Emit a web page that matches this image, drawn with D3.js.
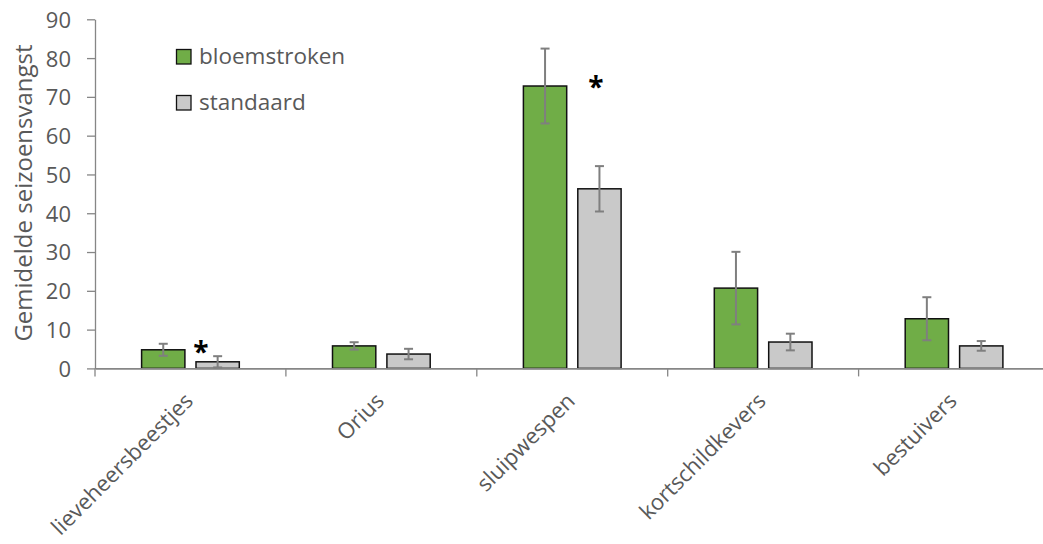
<!DOCTYPE html>
<html>
<head>
<meta charset="utf-8">
<script src="https://cdn.jsdelivr.net/npm/d3@7"></script>
<style>
  html, body { margin: 0; padding: 0; background: #fff; }
  svg text { font-family: "Open Sans", "Liberation Sans", sans-serif; }
</style>
</head>
<body>
<svg id="chart" width="1043" height="544"></svg>
<script>
const categories = ["lieveheersbeestjes", "Orius", "sluipwespen", "kortschildkevers", "bestuivers"];
const seriesNames = ["bloemstroken", "standaard"];
const bloemstroken = [4.8, 5.8, 72.8, 20.7, 12.8];
const bloemstrokenErr = [1.55, 0.95, 9.65, 9.35, 5.55];
const standaard = [1.7, 3.7, 46.3, 6.8, 5.8];
const standaardErr = [1.45, 1.35, 5.85, 2.15, 1.25];
const yTicks = [0, 10, 20, 30, 40, 50, 60, 70, 80, 90];
const significant = ["lieveheersbeestjes", "sluipwespen"];
const significantLevel = [5.5, 73.9];
const yTitle = "Gemidelde seizoensvangst";

const colors = {bloemstroken: "#70AD47", standaard: "#C9C9C9"};
const svg = d3.select("#chart");

const x0 = d3.scaleBand().domain(categories).range([95, 95 + 5 * 190.9]).paddingInner(0).paddingOuter(0);
const x1 = d3.scaleBand().domain(seriesNames).range([46.6, 144.3]).paddingInner(0.204).paddingOuter(0);
const y = d3.scaleLinear().domain([0, 90]).range([368.4, 19.3]);

const values = {bloemstroken, standaard};
const errs = {bloemstroken: bloemstrokenErr, standaard: standaardErr};
const data = [];
categories.forEach((c, i) => seriesNames.forEach(s => data.push({cat: c, s, v: values[s][i], e: errs[s][i]})));

// Y axis
const yAxis = d3.axisLeft(y).tickValues(yTicks).tickSize(8).tickSizeOuter(0).tickPadding(16);
const gy = svg.append("g").attr("transform", "translate(95,0)").call(yAxis);
gy.select(".domain").attr("stroke", "#868686").attr("stroke-width", 1.3);
gy.selectAll(".tick line").attr("stroke", "#868686").attr("stroke-width", 1.3);
gy.selectAll(".tick text").attr("fill", "#595959").style("font-size", "22px").attr("dy", "0.36em");

// Bars
svg.append("g").selectAll("rect").data(data).join("rect")
  .attr("x", d => x0(d.cat) + x1(d.s))
  .attr("y", d => y(d.v))
  .attr("width", x1.bandwidth())
  .attr("height", d => y(0) - y(d.v))
  .attr("fill", d => colors[d.s])
  .attr("stroke", "#111")
  .attr("stroke-width", 1.5);

// X axis
const xAxis = d3.axisBottom(x0).tickSize(0).tickFormat("");
const gx = svg.append("g").attr("transform", `translate(0,${y(0)})`).call(xAxis);
gx.select(".domain").attr("stroke", "#868686").attr("stroke-width", 1.6);
const bounds = categories.map(c => x0(c));
svg.append("g").selectAll("line").data(bounds).join("line")
  .attr("x1", d => d).attr("x2", d => d)
  .attr("y1", y(0)).attr("y2", y(0) + 8)
  .attr("stroke", "#868686").attr("stroke-width", 1.3);

// Error bars
const eg = svg.append("g").attr("stroke", "#7F7F7F").attr("stroke-width", 2);
data.forEach(d => {
  const cx = x0(d.cat) + x1(d.s) + x1.bandwidth() / 2;
  eg.append("line").attr("x1", cx).attr("x2", cx).attr("y1", y(d.v + d.e)).attr("y2", y(Math.max(0, d.v - d.e)));
  [d.v + d.e, Math.max(0, d.v - d.e)].forEach(v => {
    eg.append("line").attr("x1", cx - 4.5).attr("x2", cx + 4.5).attr("y1", y(v)).attr("y2", y(v));
  });
});

// Category labels
svg.append("g").selectAll("text").data(categories).join("text")
  .attr("transform", d => `translate(${x0(d) + x0.bandwidth() / 2 + 4},${y(0) + 34}) rotate(-45)`)
  .attr("text-anchor", "end")
  .attr("fill", "#595959")
  .style("font-size", "22px")
  .text(d => d);

// Significance asterisks
const starOffset = {lieveheersbeestjes: 5, sluipwespen: 18};
svg.append("g").selectAll("text").data(significant).join("text")
  .attr("x", d => x0(d) + x1("standaard") + starOffset[d])
  .attr("y", (d, i) => y(significantLevel[i]) + 15)
  .attr("text-anchor", "middle")
  .attr("fill", "#000")
  .style("font-size", "28px")
  .style("font-weight", "bold")
  .text("*");

// Y title
svg.append("text")
  .attr("transform", "translate(32,193) rotate(-90)")
  .attr("text-anchor", "middle")
  .attr("fill", "#595959")
  .style("font-size", "24px")
  .text(yTitle);

// Legend
const lg = svg.append("g").attr("transform", "translate(176,49)");
seriesNames.forEach((s, i) => {
  const g = lg.append("g").attr("transform", `translate(0,${i * 46})`);
  g.append("rect").attr("x", 0.5).attr("y", 0.5).attr("width", 14.5).attr("height", 14.5)
    .attr("fill", colors[s]).attr("stroke", "#111").attr("stroke-width", 1.3);
  g.append("text").attr("x", 23).attr("y", 14.5).attr("fill", "#595959").style("font-size", "22.5px").text(s);
});
</script>
</body>
</html>
